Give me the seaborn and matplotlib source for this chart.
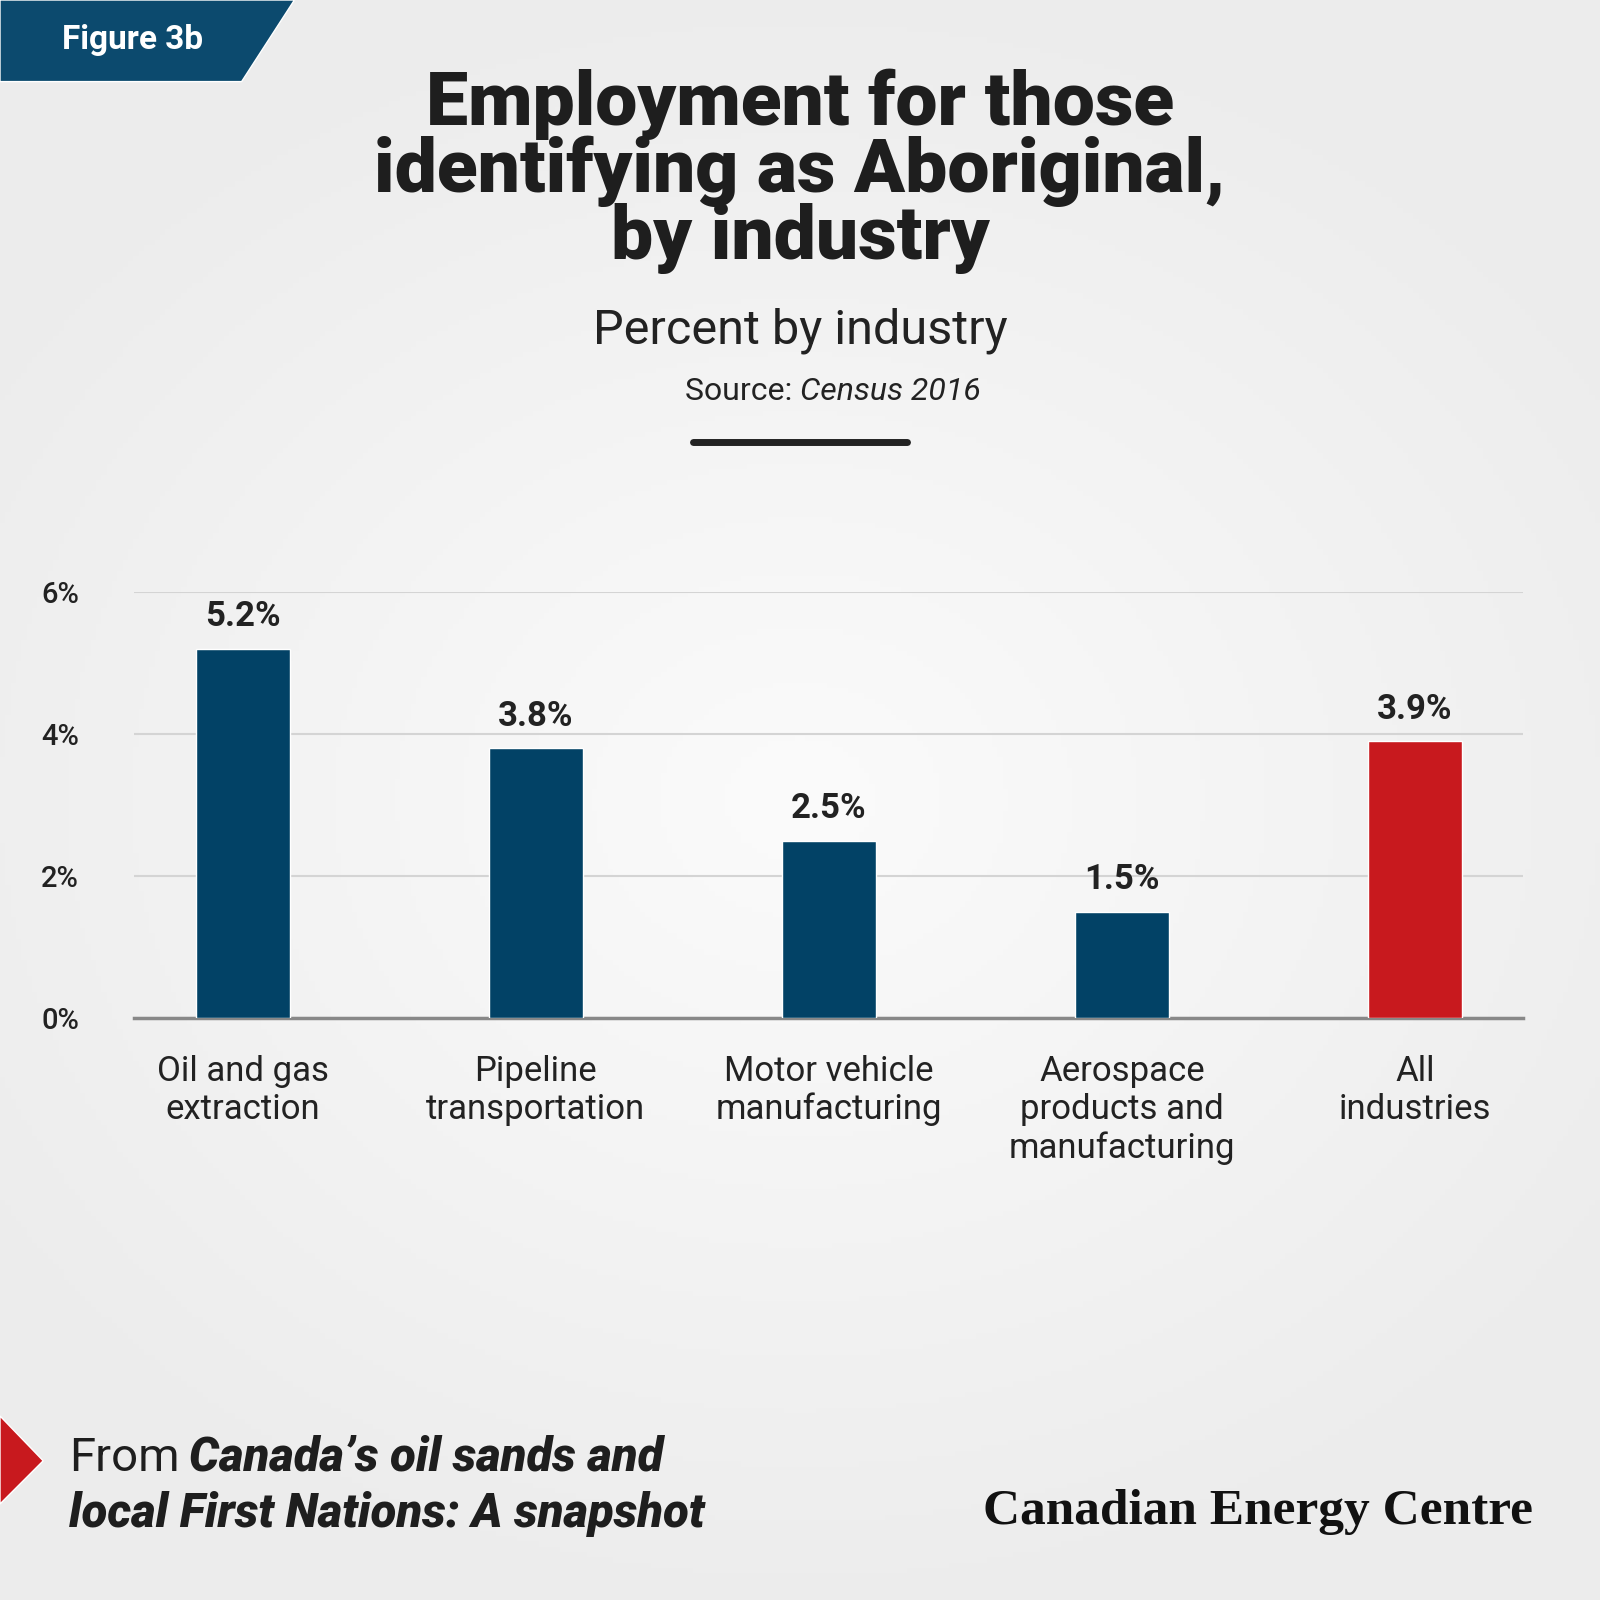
import numpy as np
import pandas as pd
import matplotlib
matplotlib.use("Agg")
import matplotlib.pyplot as plt
import seaborn as sns
from matplotlib.patches import Polygon

categories = ["Oil and gas\nextraction", "Pipeline\ntransportation", "Motor vehicle\nmanufacturing",
              "Aerospace\nproducts and\nmanufacturing", "All\nindustries"]
values = [5.2, 3.8, 2.5, 1.5, 3.9]
labels = ["5.2%", "3.8%", "2.5%", "1.5%", "3.9%"]
colors = ["#024266", "#024266", "#024266", "#024266", "#c8191e"]
yticks = [0, 2, 4, 6]

sns.set_style("white")
plt.rcParams["font.family"] = ["Roboto", "DejaVu Sans"]

fig = plt.figure(figsize=(16, 16), dpi=100)
fig.patch.set_facecolor("#eeeeee")

# soft radial glow in the background
bg = fig.add_axes([0, 0, 1, 1], zorder=-10)
yy, xx = np.mgrid[0:1:300j, 0:1:300j]
r = np.sqrt((xx - 0.5) ** 2 + ((yy - 0.5) * 1.2) ** 2)
bg.imshow(np.clip(1 - r * 1.6, 0, 1), cmap=matplotlib.colors.LinearSegmentedColormap.from_list(
    "g", ["#ececec", "#fbfbfb"]), extent=[0, 1, 0, 1], aspect="auto")
bg.set_axis_off()

df = pd.DataFrame({"cat": categories, "val": values})
ax = fig.add_axes([0.084, 0.3635, 0.868, 0.2665])
ax.set_facecolor("none")
sns.barplot(data=df, x="cat", y="val", hue="cat", palette=colors, width=0.32,
            legend=False, ax=ax, saturation=1)
for p in ax.patches:
    p.set_zorder(3)
ax.set_xlim(-0.37, 4.37)
ax.set_ylim(0, 6)
ax.set_yticks(yticks)
ax.set_yticklabels([f"{t}%" for t in yticks], fontsize=21, color="#222222", fontweight="medium")
ax.yaxis.grid(True, color="#d4d4d4", linewidth=1.5)
ax.set_axisbelow(True)
ax.tick_params(axis="y", length=0, pad=18)
ax.tick_params(axis="x", length=0, pad=26, labelsize=25, labelcolor="#222222")
for lbl in ax.get_xticklabels():
    lbl.set_linespacing(1.2)
for lbl in ax.get_yticklabels():
    lbl.set_horizontalalignment("left")
    lbl.set_x(-0.049)
ax.set_xlabel("")
ax.set_ylabel("")
for s in ["top", "right", "left"]:
    ax.spines[s].set_visible(False)
ax.spines["bottom"].set_color("#888888")
ax.spines["bottom"].set_linewidth(2.5)
for i, (v, t) in enumerate(zip(values, labels)):
    ax.text(i, v + 0.22, t, ha="center", va="bottom", fontsize=25, fontweight="bold", color="#222222")

# header
fig.text(0.5, 0.893, "Employment for those\nidentifying as Aboriginal,\nby industry", ha="center", va="center",
         fontsize=54, fontweight="black", color="#1e1e1e", linespacing=0.93)
fig.text(0.5, 0.793, "Percent by industry", ha="center", va="center", fontsize=35, color="#222222")
fig.text(0.5, 0.755, "Source: ", ha="right", va="center", fontsize=23, color="#222222")
fig.text(0.5, 0.755, "Census 2016", ha="left", va="center", fontsize=23, style="italic", color="#222222")
fig.add_artist(plt.Line2D([0.433, 0.567], [0.724, 0.724], color="#222222", linewidth=5))

# figure tag
fig.add_artist(Polygon([[0, 1], [0.184, 1], [0.151, 0.949], [0, 0.949]], closed=True,
                       facecolor="#0c4a6e", transform=fig.transFigure))
fig.text(0.083, 0.975, "Figure 3b", ha="center", va="center", fontsize=24, fontweight="bold", color="white")

# footer
fig.add_artist(Polygon([[0, 0.115], [0.027, 0.087], [0, 0.06]], closed=True,
                       facecolor="#c8191e", transform=fig.transFigure))
fig.text(0.043, 0.089, "From", ha="left", va="center", fontsize=34, color="#1e1e1e")
fig.text(0.118, 0.089, "Canada\u2019s oil sands and", ha="left", va="center", fontsize=34,
         fontweight="black", style="italic", color="#1e1e1e")
fig.text(0.043, 0.054, "local First Nations: A snapshot", ha="left", va="center", fontsize=34,
         fontweight="black", style="italic", color="#1e1e1e")
fig.text(0.958, 0.055, "Canadian Energy Centre", ha="right", va="center", fontsize=37,
         fontweight="bold", family=["Liberation Serif", "DejaVu Serif"], color="#111111")

fig.savefig("out.png", dpi=100, facecolor=fig.get_facecolor())
